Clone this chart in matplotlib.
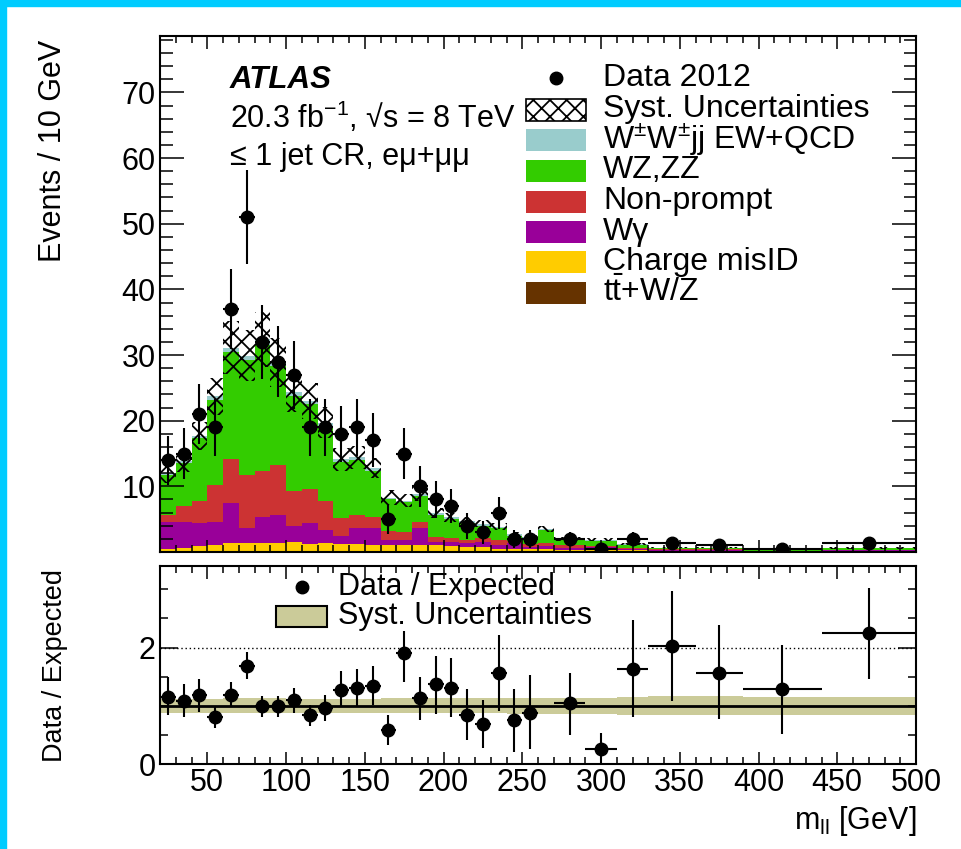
import numpy as np
import matplotlib
matplotlib.use("Agg")
import matplotlib.pyplot as plt
from matplotlib.patches import Rectangle
from matplotlib.ticker import MultipleLocator

plt.rcParams["font.family"] = ["Liberation Sans", "DejaVu Sans"]
plt.rcParams["mathtext.fontset"] = "custom"
plt.rcParams["mathtext.rm"] = "Liberation Sans"
plt.rcParams["mathtext.it"] = "Liberation Sans:italic"
plt.rcParams["mathtext.bf"] = "Liberation Sans:bold"
plt.rcParams["hatch.linewidth"] = 1.3

# --- binning (GeV) and observed event counts ---
edges = [20, 30, 40, 50, 60, 70, 80, 90, 100, 110, 120, 130, 140, 150, 160, 170,
         180, 190, 200, 210, 220, 230, 240, 250, 260, 270, 290, 310, 330, 360, 390,
         440, 500]
data_counts = [14, 15, 21, 19, 37, 51, 32, 29, 27, 19, 19, 18, 19, 17, 5, 15,
               10, 8, 7, 4, 3, 6, 2, 2, 0, 4, 1, 4, 4, 3, 2, 8]

# --- expected backgrounds, events / 10 GeV ---
ttv = [0.1, 0.1, 0.1, 0.1, 0.1, 0.1, 0.1, 0.1, 0.1, 0.1, 0.1, 0.1, 0.1, 0.1, 0.1, 0.1,
       0.1, 0.1, 0.1, 0.1, 0.1, 0.1, 0.1, 0.1, 0.1, 0.1, 0.1, 0.1, 0.08, 0.08, 0.05, 0.08]
misid = [0.3, 0.5, 0.8, 1.0, 1.3, 1.3, 1.3, 1.3, 1.4, 1.1, 1.3, 1.1, 1.1, 1.0, 1.0, 1.0,
         0.9, 0.9, 0.8, 0.7, 0.7, 0.4, 0.4, 0.3, 0.3, 0.2, 0.2, 0.2, 0.12, 0.12, 0.0, 0.07]
wgamma = [4.2, 4.0, 3.5, 3.5, 6.1, 2.2, 4.0, 4.2, 2.4, 3.2, 1.9, 1.2, 2.5, 2.6, 0.8, 0.8,
          2.7, 0.5, 0.6, 0.5, 0.7, 0.6, 0.8, 0.4, 0.5, 0.3, 0.4, 0.2, 0.15, 0.15, 0.05, 0.15]
nonprompt = [1.1, 2.4, 3.4, 5.6, 6.7, 8.1, 7.0, 7.7, 5.4, 5.2, 4.5, 2.8, 1.9, 1.7, 1.3, 1.2,
             0.9, 0.8, 0.6, 0.6, 0.6, 0.7, 0.3, 0.4, 0.4, 0.4, 0.2, 0.15, 0.1, 0.1, 0.05, 0.05]
wzzz = [6.1, 6.6, 9.6, 13.0, 16.2, 17.6, 19.2, 15.0, 14.5, 12.9, 11.4, 8.5, 8.4, 6.9, 4.8, 4.5,
        4.0, 3.3, 2.9, 2.5, 1.9, 1.8, 0.9, 0.9, 2.0, 0.8, 0.85, 0.45, 0.17, 0.13, 0.13, 0.2]
wwjj = [0.2, 0.2, 0.3, 0.5, 0.7, 0.6, 0.8, 0.6, 0.5, 0.5, 0.5, 0.4, 0.4, 0.5, 0.3, 0.2,
        0.3, 0.3, 0.3, 0.3, 0.3, 0.25, 0.2, 0.2, 0.2, 0.15, 0.15, 0.1, 0.06, 0.06, 0.03, 0.05]
syst_frac = [0.12, 0.12, 0.12, 0.12, 0.13, 0.13, 0.13, 0.13, 0.12, 0.12, 0.12, 0.12, 0.12,
             0.12, 0.13, 0.13, 0.13, 0.13, 0.13, 0.13, 0.13, 0.13, 0.14, 0.14, 0.14, 0.14,
             0.14, 0.15, 0.16, 0.16, 0.15, 0.15]

# --- Data / Expected, with error bar ends ---
ratio = [1.15, 1.08, 1.18, 0.80, 1.18, 1.69, 0.99, 0.99, 1.10, 0.84, 0.97, 1.27, 1.31, 1.34,
         0.58, 1.90, 1.13, 1.37, 1.31, 0.85, 0.69, 1.56, 0.75, 0.88, np.nan, 1.04, 0.26,
         1.63, 2.03, 1.56, 1.29, 2.25]
ratio_hi = [1.49, 1.37, 1.46, 0.98, 1.40, 1.93, 1.16, 1.16, 1.31, 1.01, 1.19, 1.59, 1.63,
            1.69, 0.85, 2.28, 1.50, 1.86, 1.82, 1.29, 1.10, 2.22, 1.29, 1.52, np.nan, 1.57,
            0.53, 2.48, 2.97, 2.38, 2.05, 3.03]
ratio_lo = [0.84, 0.80, 0.90, 0.61, 1.00, 1.46, 0.80, 0.80, 0.87, 0.65, 0.74, 0.98, 1.00,
            1.01, 0.32, 1.40, 0.75, 0.86, 0.80, 0.42, 0.28, 0.91, 0.21, 0.26, np.nan, 0.50,
            0.0, 0.80, 1.09, 0.77, 0.52, 1.46]

labels = ["W$^{\\pm}$W$^{\\pm}$jj EW+QCD", "WZ,ZZ", "Non-prompt", "W\u03b3",
          "Charge misID", "t$\\bar{\\rm t}$+W/Z"]
colors = ["#99cccc", "#33cc00", "#cc3333", "#990099", "#ffcc00", "#663300"]
band_color = "#cbcb99"

edges = np.array(edges, dtype=float)
lo = edges[:-1]
w = np.diff(edges)
centers = lo + w / 2
counts = np.array(data_counts, dtype=float)
per10 = counts * 10 / w
derr = np.sqrt(counts) * 10 / w

fig = plt.figure(figsize=(9.61, 8.49), dpi=100)
ax = fig.add_axes([160 / 961, 1 - 552 / 849, 756 / 961, 516 / 849])
rax = fig.add_axes([160 / 961, 1 - 764 / 849, 756 / 961, 198 / 849])

# stacked backgrounds, bottom to top
base = np.zeros(len(lo))
for vals, col in zip([ttv, misid, wgamma, nonprompt, wzzz, wwjj], colors[::-1]):
    top = base + np.array(vals)
    ax.stairs(top, edges, baseline=base, fill=True, color=col, lw=0)
    base = top
total = base
syst = total * np.array(syst_frac)
ax.stairs(total + syst, edges, baseline=total - syst, fill=True, facecolor="none",
          edgecolor="black", hatch="xx", lw=0)

m = counts > 0
ax.errorbar(centers[m], per10[m], xerr=w[m] / 2, yerr=derr[m], fmt="o", color="black",
            ms=9, elinewidth=1.5, capsize=0)

ax.set_xlim(20, 500)
ax.set_ylim(0, 78.6)
ax.set_yticks(range(10, 80, 10))
ax.yaxis.set_minor_locator(MultipleLocator(2))
ax.xaxis.set_major_locator(MultipleLocator(50))
ax.xaxis.set_minor_locator(MultipleLocator(10))
ax.tick_params(labelbottom=False)
ax.tick_params(axis="y", which="major", length=17)
ax.tick_params(axis="y", which="minor", length=9)
ax.tick_params(axis="x", which="major", length=9)
ax.tick_params(axis="x", which="minor", length=5)
ax.set_ylabel("Events / 10 GeV", fontsize=22, loc="top")
ax.yaxis.set_label_coords(-0.122, 0.992)

# ratio panel
rax.stairs(1 + np.array(syst_frac), edges, baseline=1 - np.array(syst_frac), fill=True,
           color=band_color, lw=0)
rax.axhline(1, color="black", lw=2)
rax.axhline(2, color="black", lw=1, ls=(0, (1, 2)))
r = np.array(ratio)
rm = ~np.isnan(r)
yerr = [r[rm] - np.array(ratio_lo)[rm], np.array(ratio_hi)[rm] - r[rm]]
rax.errorbar(centers[rm], r[rm], xerr=w[rm] / 2, yerr=yerr, fmt="o", color="black",
             ms=9, elinewidth=1.5, capsize=0)
rax.set_xlim(20, 500)
rax.set_ylim(0, 3.4)
rax.set_yticks([0, 2])
rax.yaxis.set_minor_locator(MultipleLocator(0.5))
rax.xaxis.set_major_locator(MultipleLocator(50))
rax.xaxis.set_minor_locator(MultipleLocator(10))
rax.tick_params(axis="y", which="major", length=13)
rax.tick_params(axis="y", which="minor", length=6)
rax.tick_params(axis="x", which="major", length=9)
rax.tick_params(axis="x", which="minor", length=5)
rax.set_xticks(range(50, 501, 50))
rax.set_ylabel("Data / Expected", fontsize=19.5, loc="top")
rax.yaxis.set_label_coords(-0.122, 0.985)
rax.set_xlabel("m$_{\\rm ll}$ [GeV]", fontsize=22, loc="right")
rax.xaxis.set_label_coords(1.0, -0.2)

for a in (ax, rax):
    a.tick_params(which="both", direction="in", top=True, right=True, width=1.1,
                  labelsize=22, pad=3)
    for s in a.spines.values():
        s.set_linewidth(1.5)

# ATLAS label
ax.text(0.0926, 0.915, "ATLAS", fontsize=22.5, weight="bold", style="italic",
        va="center", transform=ax.transAxes)
ax.text(0.0926, 0.843, "20.3 fb$^{\\mathrm{-1}}$, \u221as = 8 TeV", fontsize=22,
        va="center", transform=ax.transAxes)
ax.text(0.0926, 0.765, "\u2264 1 jet CR, e\u03bc+\u03bc\u03bc", fontsize=22,
        va="center", transform=ax.transAxes)

# main legend, drawn by hand to keep the tight ROOT row spacing
rows = [(552 - py) / 516 for py in [78, 109.5, 139.5, 170.5, 201.5, 232, 262, 292.5]]
hx0, hx1, tx = 0.484, 0.563, 0.586
hh = 22 / 516
ax.plot([(hx0 + hx1) / 2], [rows[0]], "o", color="black", ms=9, transform=ax.transAxes,
        clip_on=False)
ax.text(tx, rows[0], "Data 2012", fontsize=23, va="center", transform=ax.transAxes)
ax.add_patch(Rectangle((hx0, rows[1] - hh / 2), hx1 - hx0, hh, transform=ax.transAxes,
                       facecolor="white", edgecolor="black", hatch="xx", lw=1.2))
ax.text(tx, rows[1], "Syst. Uncertainties", fontsize=23, va="center",
        transform=ax.transAxes)
for yy, lab, col in zip(rows[2:], labels, colors):
    ax.add_patch(Rectangle((hx0, yy - hh / 2), hx1 - hx0, hh, transform=ax.transAxes,
                           facecolor=col, edgecolor="none"))
    ax.text(tx, yy, lab, fontsize=23, va="center", transform=ax.transAxes)

# ratio legend
rrow = [(764 - py) / 198 for py in [587, 616]]
rax.plot([(301.7 - 160) / 756], [rrow[0]], "o", color="black", ms=9,
         transform=rax.transAxes, clip_on=False)
rax.text((338 - 160) / 756, rrow[0], "Data / Expected", fontsize=22, va="center",
         transform=rax.transAxes)
rax.add_patch(Rectangle(((276 - 160) / 756, rrow[1] - 10.5 / 198), 50.7 / 756, 21 / 198,
                        transform=rax.transAxes, facecolor=band_color, edgecolor="black",
                        lw=1.5))
rax.text((338 - 160) / 756, rrow[1], "Syst. Uncertainties", fontsize=22, va="center",
         transform=rax.transAxes)

# cyan frame strips on the left and top
fig.patches.append(Rectangle((0, 0), 6 / 961, 1, transform=fig.transFigure,
                             color="#00ccff", zorder=10))
fig.patches.append(Rectangle((0, 1 - 6 / 849), 1, 6 / 849, transform=fig.transFigure,
                             color="#00ccff", zorder=10))

fig.savefig("out.png", dpi=100)
